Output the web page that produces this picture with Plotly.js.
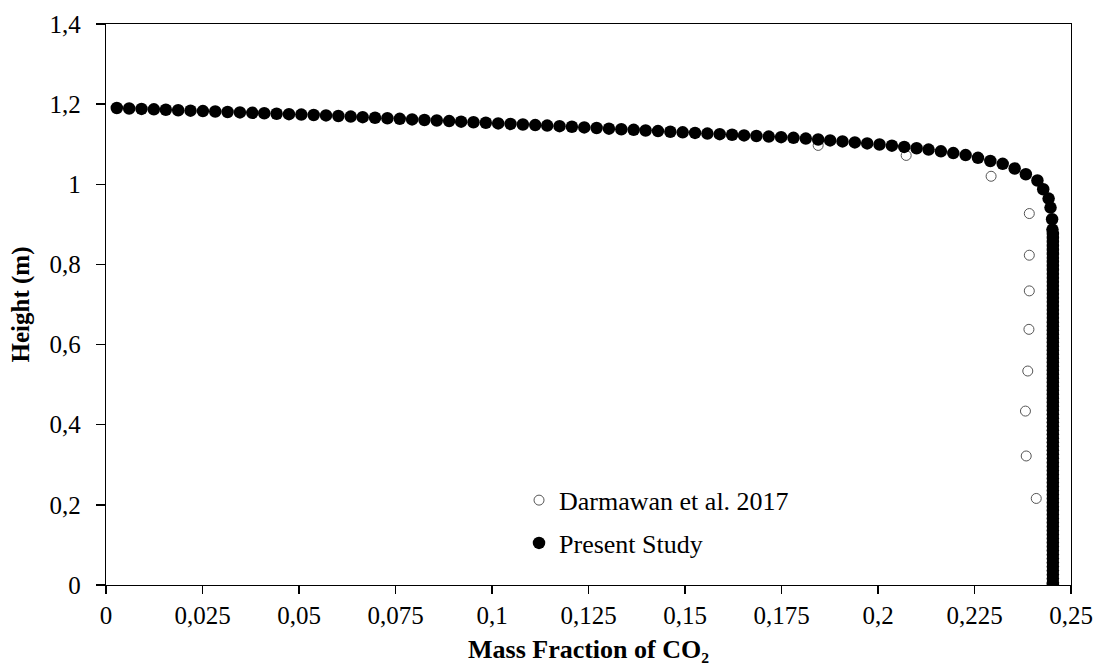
<!DOCTYPE html>
<html>
<head>
<meta charset="utf-8">
<script src="https://cdn.plot.ly/plotly-3.0.1.min.js"></script>
<style>html,body{margin:0;padding:0;background:#fff}#chart{width:1096px;height:664px}</style>
</head>
<body>
<div id="chart"></div>
<script>
// Darmawan et al. 2017 (open circles)
const darmawanX = [0.1845, 0.2073, 0.2293, 0.2392, 0.2392, 0.2392, 0.2391, 0.2388, 0.2382, 0.2384, 0.2410];
const darmawanY = [1.097, 1.072, 1.020, 0.927, 0.823, 0.734, 0.638, 0.534, 0.434, 0.322, 0.216];

// Present Study (filled circles)
const presentX = [
  0.0028,0.0060,0.0092,0.0124,0.0155,0.0187,0.0219,0.0251,0.0283,0.0315,
  0.0347,0.0379,0.0410,0.0442,0.0474,0.0506,0.0538,0.0570,0.0602,0.0634,
  0.0665,0.0697,0.0729,0.0761,0.0793,0.0825,0.0857,0.0889,0.0920,0.0952,
  0.0984,0.1016,0.1048,0.1080,0.1112,0.1143,0.1175,0.1207,0.1239,0.1271,
  0.1303,0.1335,0.1367,0.1398,0.1430,0.1462,0.1494,0.1526,0.1558,0.1590,
  0.1622,0.1653,0.1685,0.1717,0.1749,0.1781,0.1813,0.1845,0.1876,0.1908,
  0.1940,0.1972,0.2004,0.2036,0.2068,0.2100,0.2131,0.2163,0.2195,0.2227,
  0.2259,0.2291,0.2323,0.2354,0.2383,0.2413,
  0.2428,0.2442,0.2447,0.2451,0.2452,
  0.2453,0.2453,0.2453,0.2453,0.2453,0.2453,0.2453,0.2453,0.2453,0.2453,
  0.2453,0.2453,0.2453,0.2453,0.2453,0.2453,0.2453,0.2453,0.2453,0.2453,
  0.2453,0.2453,0.2453,0.2453,0.2453,0.2453,0.2453,0.2453,0.2453,0.2453,
  0.2453,0.2453,0.2453,0.2453,0.2453,0.2453,0.2453,0.2453,0.2453,0.2453,
  0.2453,0.2453,0.2453,0.2453,0.2453,0.2453,0.2453,0.2453,0.2453,0.2453,
  0.2453,0.2453,0.2453,0.2453,0.2453,0.2453,0.2453,0.2453,0.2453,0.2453,
  0.2453,0.2453,0.2453,0.2453,0.2453,0.2453,0.2453,0.2453,0.2453,0.2453,
  0.2453,0.2453,0.2453,0.2453,0.2453,0.2453,0.2453,0.2453,0.2453,0.2453,
  0.2453,0.2453,0.2453,0.2453,0.2453,0.2453,0.2453,0.2453,0.2453
];
const presentY = [
  1.1903,1.1892,1.1881,1.1870,1.1859,1.1848,1.1837,1.1827,1.1816,1.1805,
  1.1794,1.1783,1.1772,1.1761,1.1750,1.1740,1.1729,1.1718,1.1704,1.1690,
  1.1676,1.1661,1.1647,1.1633,1.1619,1.1605,1.1591,1.1577,1.1563,1.1549,
  1.1535,1.1520,1.1506,1.1492,1.1478,1.1464,1.1450,1.1435,1.1419,1.1404,
  1.1389,1.1373,1.1358,1.1343,1.1328,1.1312,1.1297,1.1282,1.1266,1.1251,
  1.1236,1.1220,1.1205,1.1190,1.1175,1.1160,1.1140,1.1118,1.1095,1.1070,
  1.1045,1.1020,1.0993,1.0963,1.0932,1.0900,1.0865,1.0822,1.0778,1.0728,
  1.0660,1.0580,1.0510,1.0395,1.0250,1.0095,
  0.9875,0.9643,0.9419,0.9127,0.8870,
  0.876,0.866,0.856,0.846,0.836,0.826,0.816,0.806,0.796,0.786,
  0.776,0.766,0.756,0.746,0.736,0.726,0.716,0.706,0.696,0.686,
  0.676,0.666,0.656,0.646,0.636,0.626,0.616,0.606,0.596,0.586,
  0.576,0.566,0.556,0.546,0.536,0.526,0.516,0.506,0.496,0.486,
  0.476,0.466,0.456,0.446,0.436,0.426,0.416,0.406,0.396,0.386,
  0.376,0.366,0.356,0.346,0.336,0.326,0.316,0.306,0.296,0.286,
  0.276,0.266,0.256,0.246,0.236,0.226,0.216,0.206,0.196,0.186,
  0.176,0.166,0.156,0.146,0.136,0.126,0.116,0.106,0.096,0.086,
  0.076,0.066,0.056,0.046,0.036,0.026,0.016,0.006,0.000
];

const xTickVals = [0, 0.025, 0.05, 0.075, 0.1, 0.125, 0.15, 0.175, 0.2, 0.225, 0.25];
const xTickText = ["0", "0,025", "0,05", "0,075", "0,1", "0,125", "0,15", "0,175", "0,2", "0,225", "0,25"];
const yTickVals = [0, 0.2, 0.4, 0.6, 0.8, 1, 1.2, 1.4];
const yTickText = ["0", "0,2", "0,4", "0,6", "0,8", "1", "1,2", "1,4"];

const seriesNames = ["Darmawan et al. 2017", "Present Study"];

const FONT = '"Liberation Serif", "Times New Roman", Times, serif';

const traces = [
  {
    x: darmawanX, y: darmawanY, type: 'scatter', mode: 'markers',
    name: seriesNames[0], legendgroup: 'a',
    marker: {symbol: 'circle', size: 10, color: '#ffffff', line: {color: '#555555', width: 1}}
  },
  {
    x: presentX, y: presentY, type: 'scatter', mode: 'markers',
    name: seriesNames[1], legendgroup: 'b',
    marker: {symbol: 'circle', size: 12.5, color: '#000000', line: {width: 0}}
  }
];

const layout = {
  width: 1096, height: 664,
  margin: {l: 106, r: 25, t: 24, b: 79, pad: 0},
  paper_bgcolor: '#ffffff', plot_bgcolor: '#ffffff',
  font: {family: FONT, size: 25, color: '#000000'},
  showlegend: true,
  legend: {
    x: 0.428, y: 0.193, xanchor: 'left', yanchor: 'top',
    bgcolor: 'rgba(0,0,0,0)', borderwidth: 0,
    font: {family: FONT, size: 26, color: '#000000'},
    traceorder: 'grouped', tracegroupgap: 6
  },
  xaxis: {
    range: [0, 0.25], tickmode: 'array', tickvals: xTickVals, ticktext: xTickText,
    ticks: 'outside', ticklen: 8, tickwidth: 1.3, tickcolor: '#000',
    showline: true, linecolor: '#000', linewidth: 1.3, mirror: true,
    showgrid: false, zeroline: false,
    tickfont: {family: FONT, size: 25, color: '#000'},
    title: {text: '<b>Mass Fraction of CO₂</b>', font: {family: FONT, size: 26, color: '#000'}, standoff: 11}
  },
  yaxis: {
    range: [0, 1.4], tickmode: 'array', tickvals: yTickVals, ticktext: yTickText,
    ticks: 'outside', ticklen: 9, tickwidth: 1.3, tickcolor: '#000',
    ticklabelstandoff: 10,
    showline: true, linecolor: '#000', linewidth: 1.3, mirror: true,
    showgrid: false, zeroline: false,
    tickfont: {family: FONT, size: 25, color: '#000'},
    title: {text: '<b>Height (m)</b>', font: {family: FONT, size: 25, color: '#000'}, standoff: 12}
  }
};

Plotly.newPlot('chart', traces, layout, {displayModeBar: false, staticPlot: true});
</script>
</body>
</html>
